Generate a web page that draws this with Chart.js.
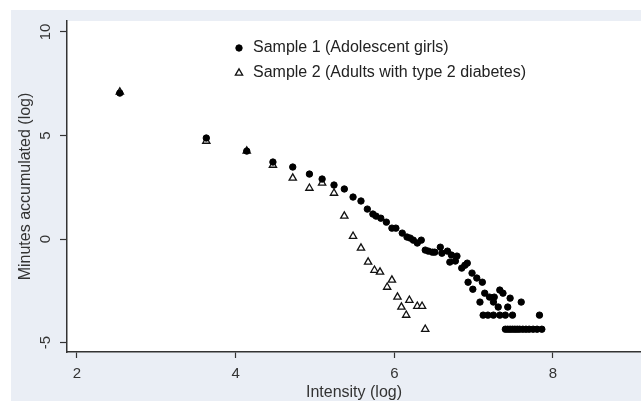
<!DOCTYPE html>
<html>
<head>
<meta charset="utf-8">
<script src="https://cdn.jsdelivr.net/npm/chart.js@4"></script>
<style>
  html, body { margin: 0; padding: 0; background: #fff; }
  #wrap { width: 641px; height: 401px; }
</style>
</head>
<body>
<div id="wrap"><canvas id="intensityChart"></canvas></div>
<script>
// data (log intensity vs log minutes)
const seriesLabels = ['Sample 1 (Adolescent girls)', 'Sample 2 (Adults with type 2 diabetes)'];

const girlsX = [2.54, 3.63, 4.14, 4.47, 4.72, 4.93, 5.09, 5.24, 5.37, 5.48, 5.58, 5.66, 5.73, 5.77, 5.83,
  5.90, 5.97, 6.02, 6.10, 6.16, 6.20, 6.24, 6.29, 6.34, 6.39, 6.43, 6.48, 6.51, 6.58, 6.60, 6.67, 6.72,
  6.70, 6.77, 6.79, 6.85, 6.89, 6.92, 6.98, 6.93, 6.99, 7.04, 7.11, 7.08, 7.14, 7.20, 7.25, 7.26, 7.31,
  7.33, 7.37, 7.43, 7.46, 7.60,
  7.12, 7.18, 7.25, 7.33, 7.40, 7.49, 7.83,
  7.40, 7.43, 7.46, 7.49, 7.52, 7.55, 7.58, 7.62, 7.66, 7.70, 7.75, 7.80, 7.86];
const girlsY = [7.05, 4.88, 4.25, 3.72, 3.48, 3.14, 2.90, 2.61, 2.42, 2.03, 1.84, 1.45, 1.21, 1.11, 1.01,
  0.82, 0.53, 0.53, 0.29, 0.10, 0.05, -0.05, -0.19, -0.05, -0.53, -0.58, -0.63, -0.63, -0.39, -0.68, -0.58, -0.77,
  -1.11, -1.06, -0.82, -1.40, -1.26, -1.16, -1.64, -2.08, -2.42, -1.88, -2.08, -3.04, -2.61, -2.80, -3.04, -2.80, -3.28,
  -2.46, -2.61, -3.28, -2.85, -3.04,
  -3.67, -3.67, -3.67, -3.67, -3.67, -3.67, -3.67,
  -4.35, -4.35, -4.35, -4.35, -4.35, -4.35, -4.35, -4.35, -4.35, -4.35, -4.35, -4.35, -4.35];

const diabetesX = [2.54, 3.63, 4.14, 4.47, 4.72, 4.93, 5.09, 5.24, 5.37, 5.48, 5.58, 5.67, 5.75, 5.82,
  5.97, 5.91, 6.04, 6.19, 6.09, 6.29, 6.35, 6.15, 6.39];
const diabetesY = [7.1, 4.73, 4.25, 3.57, 2.95, 2.46, 2.71, 2.22, 1.11, 0.14, -0.43, -1.11, -1.50, -1.59,
  -1.98, -2.32, -2.80, -2.95, -3.28, -3.24, -3.24, -3.67, -4.35];

const xTickValues = [2, 4, 6, 8];
const yTickValues = [-5, 0, 5, 10];

const toPoints = (xs, ys) => xs.map((x, i) => ({ x: x, y: ys[i] }));

const FONT = 'Liberation Sans, Arial, sans-serif';
const INK = '#333333';

// grey-blue page, white plot region
const backdrop = {
  id: 'backdrop',
  beforeDraw(chart) {
    const c = chart.ctx;
    const a = chart.chartArea;
    c.save();
    c.fillStyle = '#ffffff';
    c.fillRect(0, 0, chart.width, chart.height);
    c.fillStyle = '#eaeef5';
    c.fillRect(11, 10, chart.width - 11, chart.height - 10);
    c.fillStyle = '#ffffff';
    c.fillRect(a.left, a.top, chart.width - a.left, a.bottom - a.top);
    c.restore();
  }
};

// legend sits inside the plot, stacked
const insideLegend = {
  id: 'insideLegend',
  afterDraw(chart) {
    const c = chart.ctx;
    c.save();
    c.font = '16px ' + FONT;
    c.textBaseline = 'middle';
    c.textAlign = 'left';
    chart.data.datasets.forEach((ds, i) => {
      const y = 48 + i * 25;
      c.fillStyle = ds.backgroundColor;
      c.strokeStyle = ds.borderColor;
      c.lineWidth = ds.borderWidth;
      Chart.helpers.drawPoint(c, {
        pointStyle: ds.pointStyle,
        radius: ds.pointRadius,
        borderWidth: ds.borderWidth
      }, 239, y);
      c.fillStyle = '#222';
      c.fillText(ds.label, 253, y);
    });
    c.restore();
  }
};

const ctx = document.getElementById('intensityChart').getContext('2d');
const chart = new Chart(ctx, {
  type: 'scatter',
  data: {
    datasets: [{
      label: seriesLabels[0],
      data: toPoints(girlsX, girlsY),
      pointStyle: 'circle',
      pointRadius: 3.2,
      backgroundColor: '#000',
      borderColor: '#000',
      borderWidth: 1
    }, {
      label: seriesLabels[1],
      data: toPoints(diabetesX, diabetesY),
      pointStyle: 'triangle',
      pointRadius: 4.2,
      backgroundColor: '#ffffff',
      borderColor: '#111',
      borderWidth: 1.3
    }]
  },
  options: {
    responsive: true,
    maintainAspectRatio: false,
    animation: false,
    layout: { autoPadding: false, padding: { top: 21, right: 0, left: 0, bottom: 0 } },
    plugins: {
      legend: { display: false },
      tooltip: { enabled: false }
    },
    scales: {
      x: {
        type: 'linear',
        min: 1.874,
        max: 9.11,
        bounds: 'data',
        afterFit: (s) => { s.height = 49; },
        afterBuildTicks: (s) => { s.ticks = xTickValues.map(v => ({ value: v })); },
        border: { display: true, color: INK, width: 1.5 },
        grid: { drawOnChartArea: false, drawTicks: true, tickLength: 6, color: INK, tickWidth: 1.2 },
        ticks: { color: INK, padding: 7, font: { family: FONT, size: 15 } },
        title: {
          display: true,
          text: 'Intensity (log)',
          color: INK,
          font: { family: FONT, size: 16, lineHeight: 1 },
          padding: { top: 0, bottom: 0 }
        }
      },
      y: {
        type: 'linear',
        min: -5.45,
        max: 10.53,
        bounds: 'data',
        afterFit: (s) => { s.width = 67; },
        afterBuildTicks: (s) => { s.ticks = yTickValues.map(v => ({ value: v })); },
        border: { display: true, color: INK, width: 1.5 },
        grid: { drawOnChartArea: false, drawTicks: true, tickLength: 7, color: INK, tickWidth: 1.2 },
        ticks: { color: INK, padding: 6, minRotation: 90, maxRotation: 90, crossAlign: 'center',
          font: { family: FONT, size: 15 } },
        title: {
          display: true,
          text: 'Minutes accumulated (log)',
          color: INK,
          font: { family: FONT, size: 16, lineHeight: 1 },
          padding: { top: 18, bottom: 0 }
        }
      }
    }
  },
  plugins: [backdrop, insideLegend]
});
</script>
</body>
</html>
